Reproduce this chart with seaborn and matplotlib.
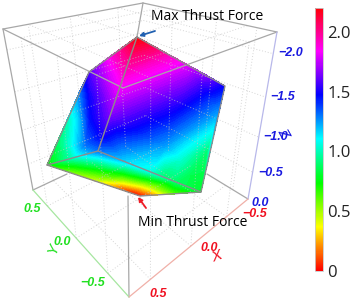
import numpy as np
import matplotlib
matplotlib.use("Agg")
import matplotlib.pyplot as plt
import matplotlib.tri as mtri
import seaborn as sns

sns.set_style("white")
plt.rcParams['font.family'] = ['Open Sans', 'DejaVu Sans']

# box corners, as they appear in the picture
top_left = (3, 29)
top_back = (143, 3)
top_right = (277, 32)
top_front = (123, 88)
bot_left = (33, 190)
bot_back = (146, 137)
bot_right = (248, 199)
bot_front = (129, 297)

# ridge from the top of the solid down to the inner corner: shared by left and right facet
ridge_x = [137, 131, 124, 117, 110, 103, 98]
ridge_y = [37, 55, 75, 95, 115, 135, 151]
ridge_f = [2.2, 2.05, 1.9, 1.78, 1.65, 1.5, 1.3]

# left facet
left_x = [116, 89, 78, 68, 56, 47, 72, 105, 90, 90, 78, 70, 85]
left_y = [52, 72, 95, 120, 145, 165, 158, 72, 95, 120, 120, 145, 145]
left_f = [1.95, 1.58, 1.25, 1.0, 0.85, 0.72, 1.0, 1.75, 1.5, 1.45, 1.15, 1.05, 1.3]

# right facet, along its colour bands
right_x = [148, 156, 172, 189, 208, 225, 218, 212, 208, 201, 175, 150, 125, 165, 180, 163, 190]
right_y = [43, 48, 57, 66, 76, 86, 112, 135, 150, 192, 182, 172, 162, 145, 158, 175, 175]
right_f = [2.12, 2.05, 1.9, 1.78, 1.65, 1.47, 1.25, 1.05, 0.9, 0.8, 0.88, 1.05, 1.15, 1.25, 1.05, 0.9, 0.85]

# lower facet
low_x = [47, 72, 98, 125, 150, 175, 201, 75, 97, 123, 133, 140, 150, 175, 97, 123, 123, 123, 123, 75, 150, 150]
low_y = [165, 158, 151, 162, 172, 182, 192, 173, 180, 189, 193, 196, 195, 194, 170, 174, 180, 187, 165, 167, 180, 187]
low_f = [0.72, 1.0, 1.3, 1.15, 1.05, 0.88, 0.8, 0.55, 0.45, 0.12, 0.02, 0.0, 0.15, 0.6, 0.72, 0.72, 0.5, 0.2, 1.05, 0.72, 0.72, 0.45]

# facet edges of the solid
edge_paths = [[(137, 37), (89, 72), (47, 165), (140, 196), (201, 192), (225, 86), (137, 37)],
              [(137, 37), (98, 151)], [(47, 165), (98, 151), (201, 192)]]

z_ticks = ["\u22122.0", "\u22121.5", "\u22121.0", "\u22120.5", "0.0"]
z_tick_xy = [(291, 53), (283, 97), (276, 137), (271, 173), (260, 203)]
x_ticks = ["0.5", "0.0", "\u22120.5"]
x_tick_xy = [(158, 294), (209, 248), (255, 214)]
y_ticks = ["0.5", "0.0", "\u22120.5"]
y_tick_xy = [(32, 209), (62, 242), (93, 283)]
cbar_ticks = [0, 0.5, 1.0, 1.5, 2.0]
cbar_labels = ["0", "0.5", "1.0", "1.5", "2.0"]

# where the grid lines fall along each axis edge
z_frac = [0.16, 0.37, 0.61, 0.87]
x_frac = [0.18, 0.52, 0.82]
y_frac = [0.15, 0.45, 0.78]


def lerp(a, b, t):
    return (a[0] + (b[0] - a[0]) * t, a[1] + (b[1] - a[1]) * t)


def grid_lines(ax, a, b, c, d, fracs):
    # a-b and d-c are the opposite edges
    for t in fracs:
        p, q = lerp(a, b, t), lerp(d, c, t)
        ax.plot([p[0], q[0]], [p[1], q[1]], color="#c4c4c4", lw=0.7, ls=(0, (1, 2)), alpha=0.7, zorder=4)


fig = plt.figure(figsize=(3.52, 3.02), dpi=100)
ax = fig.add_axes([0, 0, 1, 1])
ax.set_xlim(0, 352)
ax.set_ylim(302, 0)
ax.axis("off")

cmap = sns.hls_palette(256, h=0, l=0.5, s=1, as_cmap=True)
norm = plt.Normalize(0, 2.2)
levels = np.linspace(-0.01, 2.21, 112)

# each facet on its own so the colour can break at the edges
for xs, ys, fs in [(ridge_x + left_x, ridge_y + left_y, ridge_f + left_f),
                   (ridge_x + right_x, ridge_y + right_y, ridge_f + right_f),
                   (low_x, low_y, low_f)]:
    ax.tricontourf(mtri.Triangulation(xs, ys), fs, levels=levels, cmap=cmap, norm=norm, zorder=2)

# back, floor and top grid
grid_lines(ax, bot_left, top_left, top_back, bot_back, z_frac)
grid_lines(ax, bot_back, top_back, top_right, bot_right, z_frac)
grid_lines(ax, bot_front, bot_right, bot_back, bot_left, x_frac)
grid_lines(ax, bot_left, bot_front, bot_right, bot_back, y_frac)
grid_lines(ax, top_front, top_right, top_back, top_left, x_frac)
grid_lines(ax, top_left, top_front, top_right, top_back, y_frac)
grid_lines(ax, bot_left, bot_back, top_back, top_left, [1 - t for t in x_frac])
grid_lines(ax, bot_back, bot_right, top_right, top_back, [1 - t for t in y_frac])
grid_lines(ax, bot_front, bot_right, top_right, top_front, x_frac)
grid_lines(ax, bot_left, bot_front, top_front, top_left, y_frac)

# box edges
gray = "#a8a8a8"
for a, b in [(top_left, top_back), (top_back, top_right), (top_left, top_front), (top_front, top_right),
             (top_left, bot_left), (top_back, (137, 37)), ((128, 196), bot_front),
             (bot_left, (67, 174)), (bot_right, (207, 174))]:
    ax.plot([a[0], b[0]], [a[1], b[1]], color=gray, lw=0.9, zorder=5)
ax.plot([top_right[0], bot_right[0]], [top_right[1], bot_right[1]], color="#b8b8ea", lw=0.9, zorder=5)
ax.plot([bot_left[0], bot_front[0]], [bot_left[1], bot_front[1]], color="#a6e6a0", lw=0.9, zorder=5)
ax.plot([bot_front[0], bot_right[0]], [bot_front[1], bot_right[1]], color="#f0b0a8", lw=0.9, zorder=5)

for path in edge_paths:
    ax.plot([p[0] for p in path], [p[1] for p in path], color="#8c8c8c", lw=1.0, zorder=5)

tick_font = dict(family=["Liberation Sans", "DejaVu Sans"], style="italic", weight="bold", fontsize=9,
                 ha="center", va="center", zorder=6)
label_font = {**tick_font, "weight": "normal", "fontsize": 11}
for lab, xy in zip(z_ticks, z_tick_xy):
    ax.text(xy[0], xy[1], lab, color="#1a1ae0", **tick_font)
for lab, xy in zip(x_ticks, x_tick_xy):
    ax.text(xy[0], xy[1], lab, color="#f01020", **tick_font)
for lab, xy in zip(y_ticks, y_tick_xy):
    ax.text(xy[0], xy[1], lab, color="#20e020", **tick_font)
ax.text(283, 133, "Z", color="#1a1ae0", rotation=-60, **label_font)
ax.text(217, 257, "X", color="#f01020", rotation=20, **label_font)
ax.text(53, 249, "Y", color="#20e020", rotation=70, **label_font)

ax.text(151, 16, "Max Thrust Force", fontsize=10, color="black", va="center", zorder=7)
ax.text(138, 222, "Min Thrust Force", fontsize=10, color="black", va="center", zorder=7)
ax.annotate("", xy=(139, 36), xytext=(155, 31), zorder=7,
            arrowprops=dict(arrowstyle="-|>", color="#1f5fb0", lw=1.3, mutation_scale=6, shrinkA=0, shrinkB=0))
ax.annotate("", xy=(138, 197), xytext=(146, 208), zorder=7,
            arrowprops=dict(arrowstyle="-|>", color="#ee1c25", lw=1.3, mutation_scale=6, shrinkA=0, shrinkB=0))

cax = fig.add_axes([315 / 352, 1 - 271 / 302, 8 / 352, 263 / 302])
sm = plt.cm.ScalarMappable(norm=norm, cmap=cmap)
cb = fig.colorbar(sm, cax=cax)
cb.set_ticks(cbar_ticks, labels=cbar_labels)
cb.ax.tick_params(labelsize=12, length=0, pad=3, colors="#222222")
cb.outline.set_edgecolor("#c8c8c8")
cb.outline.set_linewidth(0.6)

fig.savefig("out.png", dpi=100)
